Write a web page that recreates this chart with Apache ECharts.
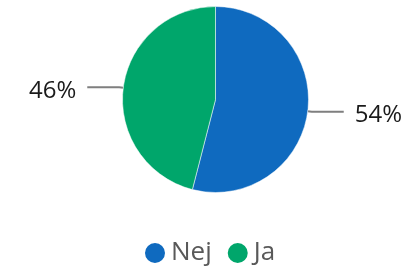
<!DOCTYPE html>
<html>
<head>
<meta charset="utf-8">
<script src="https://cdn.jsdelivr.net/npm/echarts@6/dist/echarts.min.js"></script>
<style>
    html,body{margin:0;padding:0;background:#fff;}
    #main{width:411px;height:270px;}
</style>
</head>
<body>
<div id="main"></div>
<script>
var categories=["Nej","Ja"];
var values=[54,46];
var colors=["#0F6ABF","#00A66B"];

var myChart=echarts.init(document.getElementById('main'));
var option={
    animation:false,
    color:colors,
    legend:{
        data:categories,
        top:235,
        left:138,
        icon:'circle',
        itemWidth:22,
        itemHeight:22,
        itemGap:14,
        textStyle:{
            fontFamily:'Open Sans',
            fontSize:26,
            color:'#595959'
        }
    },
    series:[
        {
            name:'Svar',
            type:'pie',
            radius:93,
            center:[215.5,99.5],
            startAngle:90,
            clockwise:true,
            data:categories.map(function (c,i) {
                return {name:c,value:values[i]}
            }),
            itemStyle:{
                borderColor:'#fff',
                borderWidth:0.5
            },
            label:{
                formatter:'{t|{d}%}',
                overflow:'none',
                distanceToLabelLine:11,
                rich:{
                    t:{
                        fontFamily:'Open Sans',
                        fontSize:24,
                        color:'#1a1a1a',
                        lineHeight:24,
                        padding:[7,0,0,0]
                    }
                }
            },
            labelLine:{
                length:4,
                length2:32,
                lineStyle:{color:'#7f7f7f',width:2}
            }
        }
    ]
};
myChart.setOption(option,true);
</script>
</body>
</html>
